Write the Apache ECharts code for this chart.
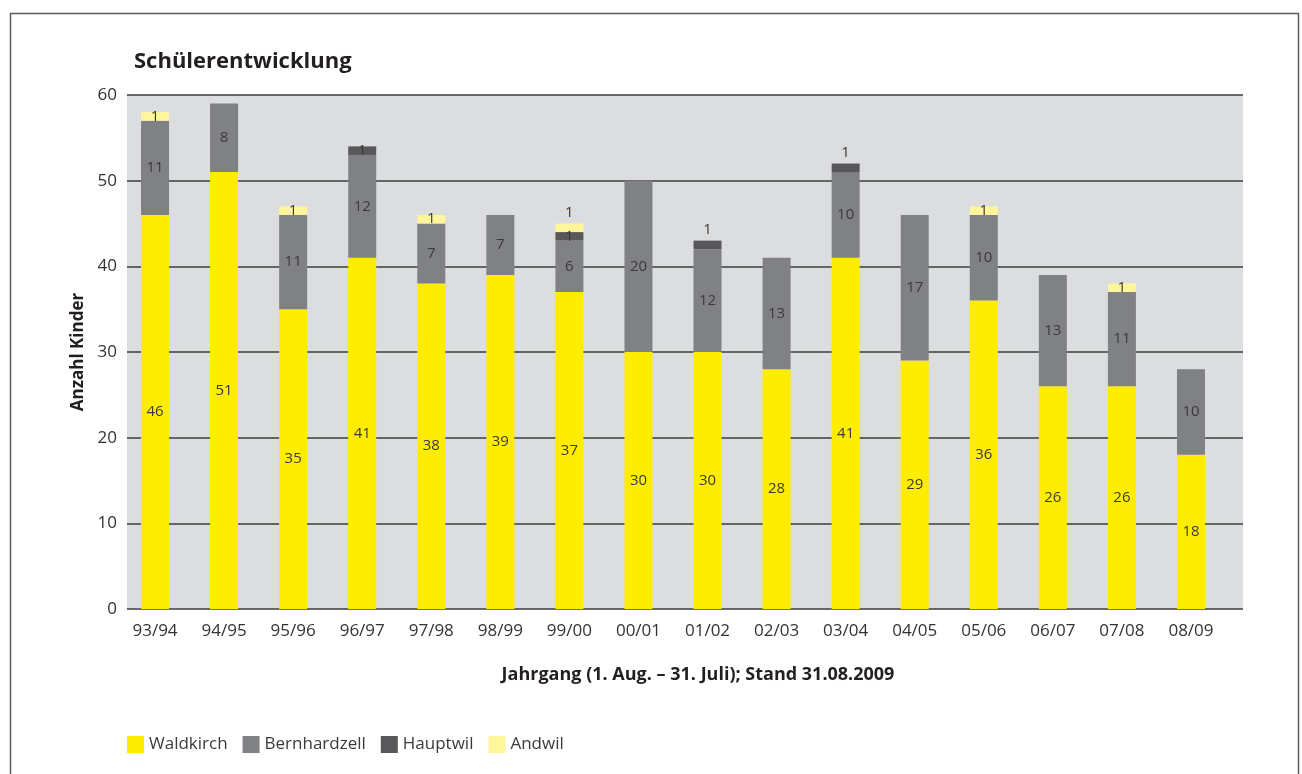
<!DOCTYPE html>
<html>
<head>
<meta charset="utf-8">
<script src="https://cdn.jsdelivr.net/npm/echarts@6/dist/echarts.min.js"></script>
<style>
  html, body { margin: 0; padding: 0; background: #fff; }
  #container { width: 1302px; height: 774px; }
</style>
</head>
<body>
<div id="container"></div>
<script>
var dom = document.getElementById("container");
var myChart = echarts.init(dom, null, { renderer: "canvas" });

const years = ["93/94", "94/95", "95/96", "96/97", "97/98", "98/99", "99/00", "00/01",
  "01/02", "02/03", "03/04", "04/05", "05/06", "06/07", "07/08", "08/09"];
const waldkirch = [46, 51, 35, 41, 38, 39, 37, 30, 30, 28, 41, 29, 36, 26, 26, 18];
const bernhardzell = [11, 8, 11, 12, 7, 7, 6, 20, 12, 13, 10, 17, 10, 13, 11, 10];
const hauptwil = [0, 0, 0, 1, 0, 0, 1, 0, 1, 0, 1, 0, 0, 0, 0, 0];
const andwil = [1, 0, 1, 0, 1, 0, 1, 0, 0, 0, 0, 0, 1, 0, 1, 0];
const yTicks = [0, 10, 20, 30, 40, 50, 60];

// labels that sit above the bar instead of inside
const labelsOnTop = {
  Hauptwil: [8, 10],
  Andwil: [6],
};

const FONT = "'Open Sans', 'Noto Sans', sans-serif";
const TXT = "#333333";

function makeSeries(name, values, color) {
  const top = labelsOnTop[name] || [];
  return {
    name: name,
    type: "bar",
    stack: "total",
    xAxisIndex: 1,
    yAxisIndex: 1,
    barWidth: 28,
    itemStyle: { color: color },
    label: {
      show: true,
      position: "inside",
      color: "#3a3a3a",
      fontFamily: FONT,
      fontSize: 15,
      formatter: function (p) {
        return p.value ? String(p.value) : "";
      },
    },
    data: values.map(function (v, i) {
      if (top.indexOf(i) >= 0) {
        return { value: v, label: { position: "top", distance: 3 } };
      }
      return v;
    }),
  };
}

const yAxisBase = {
  type: "value",
  min: yTicks[0],
  max: yTicks[yTicks.length - 1],
  interval: 10,
};

var option = {
  animation: false,
  textStyle: { fontFamily: FONT },
  title: {
    text: "Schülerentwicklung",
    left: 129,
    top: 46,
    textStyle: { fontFamily: FONT, fontSize: 22, fontWeight: "bold", color: "#231f20" },
  },
  legend: {
    left: 122,
    top: 731,
    icon: "rect",
    itemWidth: 17,
    itemHeight: 17,
    itemGap: 15,
    textStyle: { fontFamily: FONT, fontSize: 17, color: "#3a3a3a" },
    data: ["Waldkirch", "Bernhardzell", "Hauptwil", "Andwil"],
  },
  grid: [
    { left: 127, right: 59, top: 95, bottom: 165, show: true, backgroundColor: "#dcdddf", borderWidth: 0 },
    { left: 120.5, right: 76.5, top: 95, bottom: 165 },
  ],
  xAxis: [
    {
      gridIndex: 0,
      type: "category",
      data: years,
      show: false,
    },
    {
      gridIndex: 1,
      type: "category",
      data: years,
      axisLine: { show: false },
      axisTick: { show: false },
      axisLabel: { fontFamily: FONT, fontSize: 17, color: TXT, margin: 14 },
    },
  ],
  yAxis: [
    Object.assign({}, yAxisBase, {
      gridIndex: 0,
      name: "Anzahl Kinder",
      nameLocation: "middle",
      nameGap: 40,
      nameTextStyle: { fontFamily: FONT, fontSize: 17, fontWeight: "bold", color: "#231f20" },
      axisLine: { show: false },
      axisTick: { show: false },
      axisLabel: { fontFamily: FONT, fontSize: 17, color: TXT, margin: 10 },
      splitLine: { show: true, lineStyle: { color: "#3d3d3d", width: 1.5 } },
    }),
    Object.assign({}, yAxisBase, {
      gridIndex: 1,
      show: false,
      splitLine: { show: false },
    }),
  ],
  series: [
    makeSeries("Waldkirch", waldkirch, "#ffed00"),
    makeSeries("Bernhardzell", bernhardzell, "#808184"),
    makeSeries("Hauptwil", hauptwil, "#58585a"),
    makeSeries("Andwil", andwil, "#fff59b"),
  ],
  graphic: {
    elements: [
      {
        type: "rect",
        shape: { x: 10.5, y: 13.5, width: 1288, height: 800 },
        style: { fill: "none", stroke: "#5a5a5a", lineWidth: 1.5 },
        silent: true,
      },
      {
        type: "text",
        x: 698,
        y: 675,
        style: {
          text: "Jahrgang (1. Aug. – 31. Juli); Stand 31.08.2009",
          font: "bold 18px " + FONT,
          fill: "#231f20",
          align: "center",
          verticalAlign: "middle",
        },
      },
    ],
  },
};

myChart.setOption(option);
window.addEventListener("resize", myChart.resize);
</script>
</body>
</html>
